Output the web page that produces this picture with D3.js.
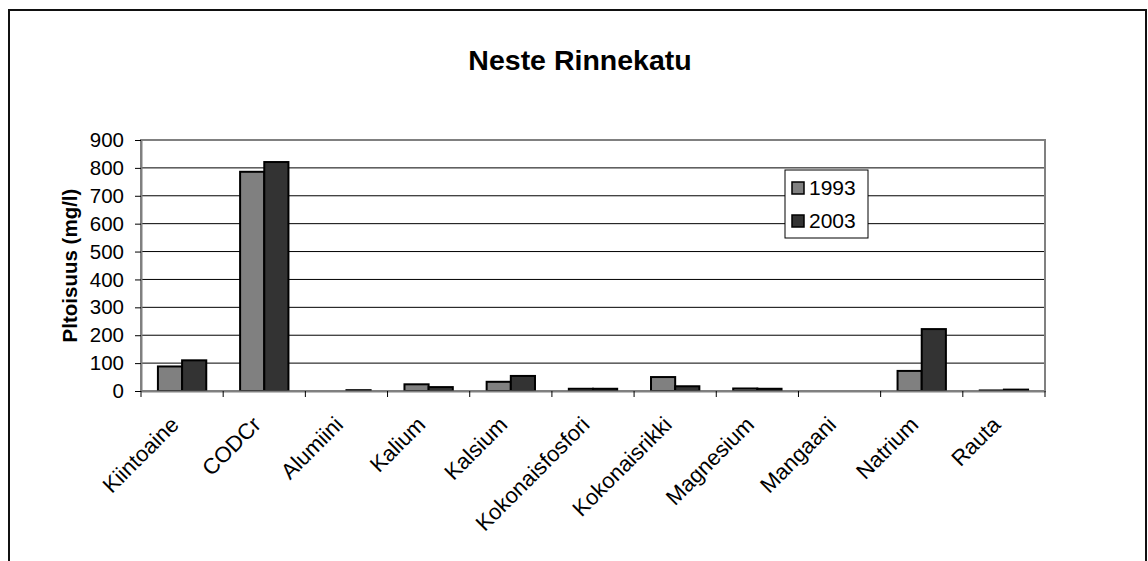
<!DOCTYPE html>
<html>
<head>
<meta charset="utf-8">
<script src="https://cdn.jsdelivr.net/npm/d3@7"></script>
<style>
  body { margin: 0; background: #fff; }
  text { font-family: "Liberation Sans", Arial, sans-serif; }
</style>
</head>
<body>
<div id="chart"></div>
<script>
const categories = ["Kiintoaine", "CODCr", "Alumiini", "Kalium", "Kalsium", "Kokonaisfosfori",
    "Kokonaisrikki", "Magnesium", "Mangaani", "Natrium", "Rauta"];
const years = ["1993", "2003"];
const values1993 = [88, 786, 0, 24, 33, 8, 50, 9, 0, 72, 2];
const values2003 = [110, 821, 3, 14, 54, 8, 17, 8, 0, 222, 5];
const yTicks = [0, 100, 200, 300, 400, 500, 600, 700, 800, 900];
const colors = ["#808080", "#333333"];

const width = 1148, height = 561;
const plot = { left: 141, top: 140, right: 1045, bottom: 391 };

const data = categories.map((c, i) => ({ cat: c, vals: [values1993[i], values2003[i]] }));

const svg = d3.select("#chart").append("svg")
    .attr("width", width).attr("height", height);

// outer chart border
svg.append("rect")
    .attr("x", 9).attr("y", 10).attr("width", 1137).attr("height", 600)
    .attr("fill", "none").attr("stroke", "#111").attr("stroke-width", 2);

svg.append("text")
    .attr("x", 580).attr("y", 70)
    .attr("text-anchor", "middle")
    .attr("font-size", 28.5).attr("font-weight", "bold")
    .text("Neste Rinnekatu");

const x = d3.scaleBand().domain(categories).range([plot.left, plot.right]);
const xs = d3.scaleBand().domain(years).range([0, x.bandwidth()]).paddingInner(0).paddingOuter(0.7);
const y = d3.scaleLinear().domain([0, 900]).range([plot.bottom, plot.top]);

// gridlines
svg.append("g").selectAll("line").data(yTicks.slice(1, -1)).join("line")
    .attr("x1", plot.left).attr("x2", plot.right)
    .attr("y1", d => y(d)).attr("y2", d => y(d))
    .attr("stroke", "#000").attr("stroke-width", 1);

// plot border
svg.append("rect")
    .attr("x", plot.left).attr("y", plot.top)
    .attr("width", plot.right - plot.left).attr("height", plot.bottom - plot.top)
    .attr("fill", "none").attr("stroke", "#808080").attr("stroke-width", 2);

// bars
svg.append("g").selectAll("g").data(data).join("g")
    .attr("transform", d => `translate(${x(d.cat)},0)`)
    .selectAll("rect").data(d => d.vals.map((v, i) => ({ v, i }))).join("rect")
    .attr("x", d => xs(years[d.i]))
    .attr("width", xs.bandwidth())
    .attr("y", d => y(d.v))
    .attr("height", d => y(0) - y(d.v))
    .attr("fill", d => colors[d.i])
    .attr("stroke", "#000").attr("stroke-width", 2);

// y axis
const yAxis = svg.append("g")
    .attr("transform", `translate(${plot.left},0)`)
    .call(d3.axisLeft(y).tickValues(yTicks).tickSize(6).tickSizeOuter(0).tickPadding(11));
yAxis.select(".domain").attr("stroke", "#808080").attr("stroke-width", 2);
yAxis.selectAll(".tick line").attr("stroke", "#000");
yAxis.selectAll("text").attr("font-size", 20.5).attr("fill", "#000")
    .attr("font-family", "'Liberation Sans', Arial, sans-serif");

// x axis
const xAxis = svg.append("g")
    .attr("transform", `translate(0,${plot.bottom})`)
    .call(d3.axisBottom(x).tickSize(0).tickFormat(""));
xAxis.select(".domain").attr("stroke", "#808080").attr("stroke-width", 2);
xAxis.selectAll(".tick").remove();

const boundaries = categories.map(c => x(c)).concat([plot.right]);
svg.append("g").selectAll("line").data(boundaries).join("line")
    .attr("x1", d => d).attr("x2", d => d)
    .attr("y1", plot.bottom).attr("y2", plot.bottom + 6)
    .attr("stroke", "#000");

svg.append("g").selectAll("text").data(categories).join("text")
    .attr("transform", d => `translate(${x(d) + x.bandwidth() / 2 - 2},${plot.bottom + 35}) rotate(-45)`)
    .attr("text-anchor", "end")
    .attr("font-size", 22)
    .text(d => d);

// y label
svg.append("text")
    .attr("transform", `translate(77,${(plot.top + plot.bottom) / 2}) rotate(-90)`)
    .attr("text-anchor", "middle")
    .attr("font-size", 20.5).attr("font-weight", "bold")
    .text("Pltoisuus (mg/l)");

// legend
const lg = svg.append("g").attr("transform", "translate(785,170)");
lg.append("rect").attr("width", 83).attr("height", 68)
    .attr("fill", "#fff").attr("stroke", "#000").attr("stroke-width", 1);
years.forEach((yr, i) => {
    lg.append("rect")
        .attr("x", 7).attr("y", 12 + i * 33).attr("width", 12).attr("height", 12)
        .attr("fill", colors[i]).attr("stroke", "#000").attr("stroke-width", 1.5);
    lg.append("text")
        .attr("x", 24).attr("y", 25 + i * 33)
        .attr("font-size", 21)
        .text(yr);
});
</script>
</body>
</html>
